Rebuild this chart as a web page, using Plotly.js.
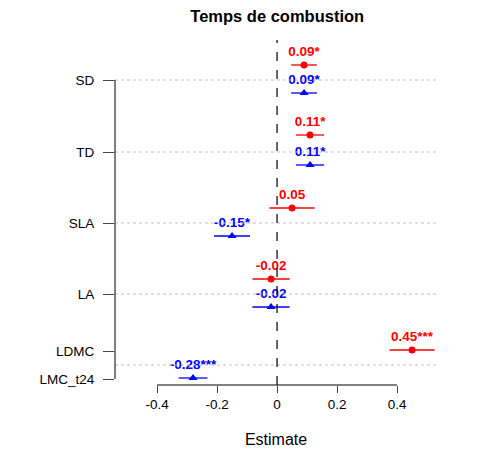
<!DOCTYPE html>
<html>
<head>
<meta charset="utf-8">
<script src="https://cdn.plot.ly/plotly-3.0.1.min.js"></script>
</head>
<body style="margin:0">
<div id="chart" style="width:478px;height:462px"></div>
<script>
// axis labels and where they sit (rows measured top-down)
var traitLabels = ['SD', 'TD', 'SLA', 'LA', 'LDMC', 'LMC_t24'];
var traitRows = [80, 152, 223, 294, 351, 379];
var gridRows = [80, 152, 223, 294, 365];

// red (circle) series
var redY = [65, 135, 208, 279, 350];
var redEst = [0.09, 0.11, 0.05, -0.02, 0.45];
var redErr = [0.043, 0.047, 0.075, 0.062, 0.075];
var redText = ['0.09*', '0.11*', '0.05', '-0.02', '0.45***'];

// blue (triangle) series
var blueY = [93, 165, 236, 307, 378];
var blueEst = [0.09, 0.11, -0.15, -0.02, -0.28];
var blueErr = [0.043, 0.047, 0.06, 0.062, 0.048];
var blueText = ['0.09*', '0.11*', '-0.15*', '-0.02', '-0.28***'];

var xTicks = [-0.4, -0.2, 0, 0.2, 0.4];

function series(y, est, err, txt, color, symbol, size) {
    return {
        x: est, y: y, type: 'scatter', mode: 'markers+text',
        text: txt, textposition: 'top center',
        textfont: {family: 'Liberation Sans, Arial', size: 13.5, color: color, weight: 'bold'},
        marker: {color: color, symbol: symbol, size: size},
        error_x: {type: 'data', array: err, color: color, thickness: 1.3, width: 0},
        cliponaxis: false, hoverinfo: 'skip'
    };
}

var traces = [
    series(redY, redEst, redErr, redText, 'red', 'circle', 7),
    series(blueY, blueEst, blueErr, blueText, 'blue', 'triangle-up', 8)
];

var shapes = [];
gridRows.forEach(function (r) {
    shapes.push({type: 'line', xref: 'paper', x0: 0, x1: 1, y0: r, y1: r,
        line: {color: '#c0c0c0', width: 1, dash: 'dot'}});
});
shapes.push({type: 'line', x0: 0, x1: 0, yref: 'paper', y0: 0, y1: 1,
    line: {color: 'black', width: 1.2, dash: 'dash'}});
// R-style axis lines spanning only first to last tick
shapes.push({type: 'line', xref: 'paper', x0: 0, x1: 0, y0: traitRows[0], y1: traitRows[traitRows.length - 1],
    line: {color: 'black', width: 1}});
shapes.push({type: 'line', x0: xTicks[0], x1: xTicks[xTicks.length - 1], yref: 'paper', y0: 0, y1: 0,
    line: {color: 'black', width: 1}});

var layout = {
    width: 478, height: 462,
    margin: {l: 115, r: 41, t: 40, b: 77},
    paper_bgcolor: 'white', plot_bgcolor: 'white',
    showlegend: false,
    font: {family: 'Liberation Sans, Arial', size: 13.5, color: 'black'},
    title: {text: '<b>Temps de combustion</b>', x: 0.58, xanchor: 'center', y: 0.978, yanchor: 'top',
        font: {size: 16.5}},
    xaxis: {
        range: [-0.54, 0.533], tickvals: xTicks, ticktext: xTicks.map(String),
        ticks: 'outside', ticklen: 7, showgrid: false, zeroline: false, showline: false,
        title: {text: 'Estimate', standoff: 22}, fixedrange: true
    },
    yaxis: {
        range: [385, 40], tickvals: traitRows, ticktext: traitLabels,
        ticks: 'outside', ticklen: 11, ticklabelstandoff: 6,
        showgrid: false, zeroline: false, showline: false, fixedrange: true
    },
    shapes: shapes
};

Plotly.newPlot('chart', traces, layout, {displayModeBar: false, staticPlot: true});
</script>
</body>
</html>
